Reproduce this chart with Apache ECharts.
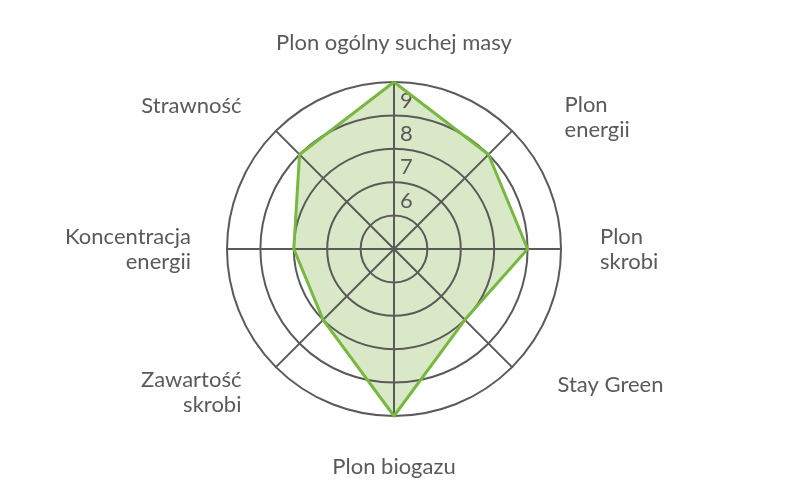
<!DOCTYPE html>
<html>
<head>
<meta charset="utf-8">
<script src="https://cdn.jsdelivr.net/npm/echarts@6/dist/echarts.min.js"></script>
<style>
  html, body { margin: 0; padding: 0; background: #ffffff; }
  #chart { width: 791px; height: 500px; }
</style>
</head>
<body>
<div id="chart"></div>
<script>
// ---- data ----
const indicatorNames = [
  'Plon ogólny suchej masy',
  'Strawność',
  'Koncentracja\nenergii',
  'Zawartość\nskrobi',
  'Plon biogazu',
  'Stay Green',
  'Plon\nskrobi',
  'Plon\nenergii'
];
const scoreValues = [9, 8, 7, 7, 9, 7, 8, 8];
const scaleMin = 4;
const scaleMax = 9;
const tickLabels = ['6', '7', '8', '9'];

// ---- styles (label nudges, not data) ----
// pt/pb shift each line by (pt - pb) / 2 ; pl/pr shift horizontally
const nameNudge = [
  { pt: 18, pb: 0,  pl: 0,  pr: 0 },   // top
  { pt: 0,  pb: 0,  pl: 0,  pr: 9 },   // upper-left
  { pt: 0,  pb: 0,  pl: 0,  pr: 0 },   // left
  { pt: 0,  pb: 0,  pl: 0,  pr: 9 },   // lower-left
  { pt: 4,  pb: 0,  pl: 0,  pr: 0 },   // bottom
  { pt: 0,  pb: 15, pl: 20, pr: 0 },   // lower-right
  { pt: 0,  pb: 0,  pl: 3,  pr: 0 },   // right
  { pt: 24, pb: 0,  pl: 27, pr: 0 }    // upper-right
];
const FONT = 'Lato';
const FONT_SIZE = 22;
const TEXT_COLOR = '#5a5a5a';
const GRID_COLOR = '#5a5a5a';

const rich = {};
nameNudge.forEach(function (n, i) {
  rich['n' + i] = {
    fontFamily: FONT, fontSize: FONT_SIZE, color: TEXT_COLOR, lineHeight: 25,
    padding: [n.pt, n.pr, n.pb, n.pl]
  };
});

const indicators = indicatorNames.map(function (name, i) {
  const ind = { name: name, min: scaleMin, max: scaleMax };
  if (i === 0) {
    ind.axisLabel = {
      show: true,
      margin: -6,
      align: 'left',
      verticalAlign: 'top',
      padding: [8, 0, 0, 0],
      lineHeight: 21,
      fontFamily: FONT,
      fontSize: FONT_SIZE,
      color: TEXT_COLOR,
      formatter: function (v) {
        const s = String(Math.round(v));
        return tickLabels.indexOf(s) >= 0 ? s : '';
      }
    };
  }
  return ind;
});

const chart = echarts.init(document.getElementById('chart'), null, { renderer: 'canvas' });
chart.setOption({
  backgroundColor: '#ffffff',
  animation: false,
  radar: {
    z: 3,
    center: [394, 249],
    radius: 167,
    startAngle: 90,
    shape: 'circle',
    splitNumber: 5,
    nameGap: 36,
    indicator: indicators,
    axisName: {
      fontFamily: FONT,
      fontSize: FONT_SIZE,
      color: TEXT_COLOR,
      lineHeight: 25,
      rich: rich,
      formatter: function (name) {
        const i = indicatorNames.indexOf(name);
        return name.split('\n').map(function (l) {
          return '{n' + i + '|' + l + '}';
        }).join('\n');
      }
    },
    axisLine: { lineStyle: { color: GRID_COLOR, width: 2 } },
    axisTick: { show: false },
    axisLabel: { show: false },
    splitLine: { lineStyle: { color: GRID_COLOR, width: 2 } },
    splitArea: { show: false }
  },
  series: [
    {
      type: 'radar',
      z: 2,
      symbol: 'none',
      silent: true,
      lineStyle: { width: 0, opacity: 0 },
      areaStyle: { color: '#d9e9c8', opacity: 1 },
      data: [{ value: scoreValues }]
    },
    {
      type: 'radar',
      z: 4,
      symbol: 'none',
      silent: true,
      lineStyle: { color: '#77b83e', width: 3 },
      data: [{ value: scoreValues }]
    }
  ]
});
</script>
</body>
</html>
